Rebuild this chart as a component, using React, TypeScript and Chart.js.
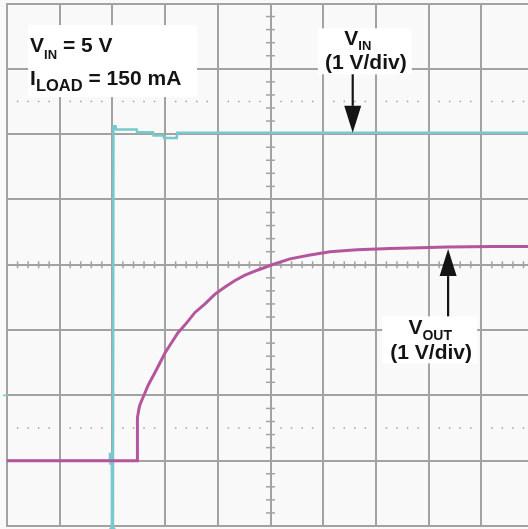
import React, { useEffect, useRef } from "react";
import { Chart, registerables } from "chart.js";

Chart.register(...registerables);

// Axes in screen divisions (time) and volts (1 V/div, both channels share ground)
const X_MIN = 0;
const X_MAX = 9.886;
const Y_MIN = -1;
const Y_MAX = 7;

// VIN trace (cyan)
const vinTime = [0, 1.95, 1.955, 1.96, 1.97, 1.99, 1.99, 2.01, 2.02, 2.06, 2.07, 2.46, 2.47, 2.77, 2.78, 2.97, 2.98, 3.22, 3.23, 9.886];
const vinVolts = [0, 0, 0.12, -0.06, 0, 0, -1.2, -1.2, 5.12, 5.12, 5.07, 5.07, 5.03, 5.03, 4.98, 4.98, 4.94, 4.94, 5.02, 5.02];

// VOUT trace (magenta)
const voutTime = [0, 2.45, 2.47, 2.475, 2.505, 2.524, 2.619, 2.681, 2.808, 2.903, 2.998, 3.125, 3.245, 3.378, 3.567, 3.757, 3.947, 4.137, 4.326, 4.516, 4.763, 5.028, 5.37, 5.75, 6.129, 6.641, 7.268, 7.837, 8.349, 9.222, 9.886];
const voutVolts = [0, 0, 0, 0.66, 0.8, 0.86, 1.04, 1.16, 1.35, 1.5, 1.65, 1.81, 1.96, 2.08, 2.27, 2.4, 2.55, 2.66, 2.76, 2.84, 2.92, 3.0, 3.09, 3.15, 3.2, 3.23, 3.25, 3.26, 3.27, 3.28, 3.28];

const minorStep = 0.2;
const cursorLevels = [0.5, 5.5];
const centerTime = 5;
const centerVolts = 3;
const triggerTime = 2.0;
const triggerLevel = 1.0;

const infoLines = [
  { main: "V", sub: "IN", rest: " = 5 V" },
  { main: "I", sub: "LOAD", rest: " = 150 mA" },
];
const vinLabel = { name: "V", sub: "IN", scale: "(1 V/div)" };
const voutLabel = { name: "V", sub: "OUT", scale: "(1 V/div)" };

// annotation anchors in data units
const infoBoxAnchor = { t: 0.4, v: 6.67 };
const vinBoxAnchor = { t: 6.79, v: 6.62 };
const vinArrow = { t: 6.56, tip: 5.02 };
const voutBoxAnchor = { t: 8.02, v: 2.21 };
const voutArrow = { t: 8.37, tip: 3.24 };

const BG = "#f9f9f9";
const GRID = "#a2a2a2";
const CYAN = "#78c9cc";
const MAGENTA = "#b4569e";
const INK = "#141414";
const FONT = '"Liberation Sans", Arial, Helvetica, sans-serif';

type Run = { t: string; size: number; dy: number };

function drawRuns(ctx: CanvasRenderingContext2D, x: number, y: number, runs: Run[], align: "left" | "center") {
  const widths = runs.map((r) => {
    ctx.font = `bold ${r.size}px ${FONT}`;
    return ctx.measureText(r.t).width;
  });
  const total = widths.reduce((a, b) => a + b, 0);
  let cx = align === "center" ? x - total / 2 : x;
  ctx.textBaseline = "alphabetic";
  ctx.textAlign = "left";
  runs.forEach((r, i) => {
    ctx.font = `bold ${r.size}px ${FONT}`;
    ctx.fillText(r.t, cx, y + r.dy);
    cx += widths[i];
  });
}

function drawArrow(ctx: CanvasRenderingContext2D, x: number, from: number, tip: number) {
  const dir = tip > from ? 1 : -1;
  const head = 27;
  const half = 8.5;
  ctx.strokeStyle = INK;
  ctx.fillStyle = INK;
  ctx.lineWidth = 2.2;
  ctx.beginPath();
  ctx.moveTo(x, from);
  ctx.lineTo(x, tip - dir * head);
  ctx.stroke();
  ctx.beginPath();
  ctx.moveTo(x - half, tip - dir * head);
  ctx.lineTo(x + half, tip - dir * head);
  ctx.lineTo(x, tip);
  ctx.closePath();
  ctx.fill();
}

const scopePlugin = {
  id: "scope",
  beforeDraw(chart: any) {
    const ctx = chart.ctx as CanvasRenderingContext2D;
    ctx.save();
    ctx.fillStyle = BG;
    ctx.fillRect(0, 0, chart.width, chart.height);
    ctx.restore();
  },
  beforeDatasetsDraw(chart: any) {
    const ctx = chart.ctx as CanvasRenderingContext2D;
    const xs = chart.scales.x;
    const ys = chart.scales.y;
    ctx.save();
    ctx.fillStyle = GRID;
    ctx.strokeStyle = GRID;
    ctx.lineWidth = 1.5;
    const cy = ys.getPixelForValue(centerVolts);
    const cx = xs.getPixelForValue(centerTime);
    const isWhole = (v: number) => Math.abs(v - Math.round(v)) < 1e-6;
    // minor ticks on horizontal center line and dotted cursor lines
    for (let i = 0; X_MIN + i * minorStep <= X_MAX + 1e-9; i++) {
      const t = X_MIN + i * minorStep;
      if (isWhole(t)) continue;
      const px = xs.getPixelForValue(t);
      ctx.beginPath();
      ctx.moveTo(px, cy - 3.5);
      ctx.lineTo(px, cy + 3.5);
      ctx.stroke();
      cursorLevels.forEach((lv) => {
        const py = ys.getPixelForValue(lv);
        ctx.fillRect(px - 0.75, py - 0.75, 1.5, 1.5);
      });
    }
    // minor ticks on vertical center line
    for (let i = 0; Y_MIN + i * minorStep <= Y_MAX + 1e-9; i++) {
      const v = Y_MIN + i * minorStep;
      if (isWhole(v)) continue;
      const py = ys.getPixelForValue(v);
      ctx.beginPath();
      ctx.moveTo(cx - 4.5, py);
      ctx.lineTo(cx + 4.5, py);
      ctx.stroke();
    }
    // trigger markers
    ctx.fillStyle = CYAN;
    ctx.strokeStyle = CYAN;
    const tx = xs.getPixelForValue(triggerTime);
    const bottom = chart.chartArea.bottom;
    ctx.beginPath();
    ctx.moveTo(tx - 3.5, bottom + 3);
    ctx.lineTo(tx + 3.5, bottom + 3);
    ctx.lineTo(tx, bottom - 2);
    ctx.closePath();
    ctx.fill();
    const ly = ys.getPixelForValue(triggerLevel);
    ctx.lineWidth = 1.5;
    ctx.beginPath();
    ctx.moveTo(chart.chartArea.left - 4, ly);
    ctx.lineTo(chart.chartArea.left + 1, ly);
    ctx.stroke();
    ctx.restore();
  },
  afterDatasetsDraw(chart: any) {
    const ctx = chart.ctx as CanvasRenderingContext2D;
    const xs = chart.scales.x;
    const ys = chart.scales.y;
    ctx.save();

    // info box
    const bx = xs.getPixelForValue(infoBoxAnchor.t);
    const by = ys.getPixelForValue(infoBoxAnchor.v);
    ctx.fillStyle = "#ffffff";
    ctx.fillRect(bx, by, 169, 72);
    ctx.fillStyle = INK;
    drawRuns(ctx, bx + 2, by + 27, [
      { t: infoLines[0].main, size: 21, dy: 0 },
      { t: infoLines[0].sub, size: 13, dy: 7 },
      { t: infoLines[0].rest, size: 21, dy: 0 },
    ], "left");
    drawRuns(ctx, bx + 2, by + 60, [
      { t: infoLines[1].main, size: 21, dy: 0 },
      { t: infoLines[1].sub, size: 16.5, dy: 6 },
      { t: " " + infoLines[1].rest.trimStart().replace(/^/, ""), size: 21, dy: 0 },
    ], "left");

    // VIN label
    const vx = xs.getPixelForValue(vinBoxAnchor.t);
    const vy = ys.getPixelForValue(vinBoxAnchor.v);
    ctx.fillStyle = "#ffffff";
    ctx.fillRect(vx - 47, vy, 94, 46);
    ctx.fillStyle = INK;
    drawRuns(ctx, vx - 7, vy + 17, [
      { t: vinLabel.name, size: 21, dy: 0 },
      { t: vinLabel.sub, size: 13, dy: 5 },
    ], "center");
    drawRuns(ctx, vx + 1, vy + 40.5, [{ t: vinLabel.scale, size: 21, dy: 0 }], "center");
    drawArrow(ctx, xs.getPixelForValue(vinArrow.t), vy + 46, ys.getPixelForValue(vinArrow.tip));

    // VOUT label
    const ox = xs.getPixelForValue(voutBoxAnchor.t);
    const oy = ys.getPixelForValue(voutBoxAnchor.v);
    ctx.fillStyle = "#ffffff";
    ctx.fillRect(ox - 47.5, oy, 95, 47);
    ctx.fillStyle = INK;
    drawRuns(ctx, ox + 0.5, oy + 18, [
      { t: voutLabel.name, size: 21, dy: 0 },
      { t: voutLabel.sub, size: 14, dy: 6 },
    ], "center");
    drawRuns(ctx, ox + 1.5, oy + 43, [{ t: voutLabel.scale, size: 21, dy: 0 }], "center");
    drawArrow(ctx, xs.getPixelForValue(voutArrow.t), oy, ys.getPixelForValue(voutArrow.tip));

    ctx.restore();
  },
};

export default function App() {
  const canvasRef = useRef<HTMLCanvasElement | null>(null);

  useEffect(() => {
    if (!canvasRef.current) return;
    const chart = new Chart(canvasRef.current, {
      type: "scatter",
      data: {
        datasets: [
          {
            label: "VOUT",
            data: voutTime.map((t, i) => ({ x: t, y: voutVolts[i] })),
            showLine: true,
            borderColor: MAGENTA,
            borderWidth: 3,
            pointRadius: 0,
            tension: 0,
          },
          {
            label: "VIN",
            data: vinTime.map((t, i) => ({ x: t, y: vinVolts[i] })),
            showLine: true,
            borderColor: CYAN,
            borderWidth: 2.5,
            pointRadius: 0,
            tension: 0,
          },
        ],
      },
      options: {
        animation: false,
        responsive: false,
        maintainAspectRatio: false,
        devicePixelRatio: 1,
        events: [],
        layout: { padding: { left: 7, top: 3.5, right: 0, bottom: 3 } },
        plugins: { legend: { display: false }, tooltip: { enabled: false } },
        scales: {
          x: {
            type: "linear",
            min: X_MIN,
            max: X_MAX,
            ticks: { display: false, stepSize: 1, includeBounds: false },
            grid: { color: GRID, lineWidth: 2, drawTicks: false },
            border: { display: true, color: GRID, width: 2 },
          },
          y: {
            type: "linear",
            min: Y_MIN,
            max: Y_MAX,
            ticks: { display: false, stepSize: 1, includeBounds: false },
            grid: { color: GRID, lineWidth: 2, drawTicks: false },
            border: { display: true, color: GRID, width: 2 },
          },
        },
      },
      plugins: [scopePlugin],
    } as any);
    return () => chart.destroy();
  }, []);

  return (
    <div style={{ position: "fixed", left: 0, top: 0, width: 528, height: 529, background: BG }}>
      <canvas ref={canvasRef} width={528} height={529} style={{ display: "block", width: 528, height: 529 }} />
    </div>
  );
}
